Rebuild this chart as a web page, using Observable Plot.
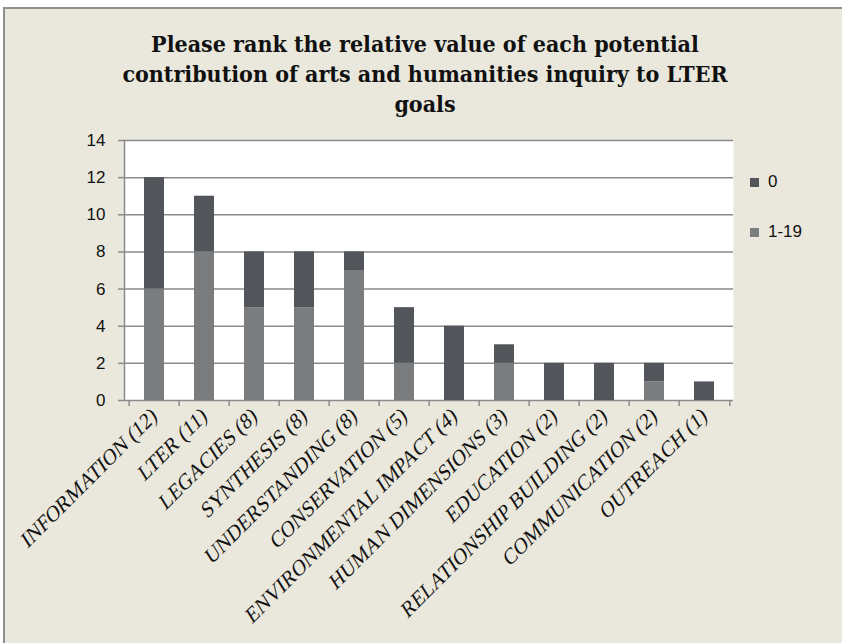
<!DOCTYPE html>
<html>
<head>
<meta charset="utf-8">
<script src="https://cdn.jsdelivr.net/npm/d3@7"></script>
<script src="https://cdn.jsdelivr.net/npm/@observablehq/plot@0.6"></script>
<style>
  html, body { margin: 0; padding: 0; }
  body { width: 842px; height: 643px; overflow: hidden; background: #ffffff; position: relative; }
  #card { position: absolute; left: 3px; top: 7px; width: 900px; height: 700px; background: #eae8dc; border-left: 2px solid #8e8e8e; border-top: 2px solid #8e8e8e; }
  #title { position: absolute; left: 0; top: 29px; width: 850px; text-align: center; font-family: "DejaVu Serif Condensed", "DejaVu Serif", serif; font-stretch: condensed; font-weight: bold; font-size: 23px; line-height: 30px; color: #111; }
  #chart { position: absolute; left: 0; top: 125px; }
  #legend { position: absolute; left: 750px; top: 172px; font-family: "Liberation Sans", sans-serif; font-size: 17px; color: #111; }
  .item { display: flex; align-items: center; height: 20px; margin-bottom: 30px; }
  .sw { width: 9px; height: 9px; margin-right: 9px; }
</style>
</head>
<body>
<div id="card"></div>
<div id="title">Please rank the relative value of each potential<br>contribution of arts and humanities inquiry to LTER<br>goals</div>
<div id="chart"></div>
<div id="legend"></div>
<script>
const categories = [
  "INFORMATION (12)", "LTER (11)", "LEGACIES (8)", "SYNTHESIS (8)",
  "UNDERSTANDING (8)", "CONSERVATION (5)", "ENVIRONMENTAL IMPACT (4)",
  "HUMAN DIMENSIONS (3)", "EDUCATION (2)", "RELATIONSHIP BUILDING (2)",
  "COMMUNICATION (2)", "OUTREACH (1)"
];
const values_1_19 = [6, 8, 5, 5, 7, 2, 0, 2, 0, 0, 1, 0];
const values_0    = [6, 3, 3, 3, 1, 3, 4, 1, 2, 2, 1, 1];
const seriesNames = ["1-19", "0"];
const legendOrder = ["0", "1-19"];
const seriesColors = ["#7b7c7e", "#525559"];
const yTicks = [0, 2, 4, 6, 8, 10, 12, 14];

const data = categories.flatMap((c, i) => [
  {cat: c, series: "1-19", value: values_1_19[i]},
  {cat: c, series: "0", value: values_0[i]}
]);

const W = 842, H = 518;
const mL = 124, mR = 109, mT = 15, mB = 243;
const step = (W - mL - mR) / categories.length;

const chart = Plot.plot({
  width: W, height: H,
  marginLeft: mL, marginRight: mR, marginTop: mT, marginBottom: mB,
  style: {background: "transparent", overflow: "visible"},
  x: {domain: categories, paddingInner: 0.6, paddingOuter: 0.3, label: null},
  y: {domain: [0, 14], label: null},
  color: {domain: seriesNames, range: seriesColors},
  marks: [
    Plot.frame({fill: "white", stroke: null}),
    Plot.gridY(yTicks, {stroke: "#8a8a8a", strokeOpacity: 1, strokeWidth: 1.5}),
    Plot.barY(data, Plot.stackY({x: "cat", y: "value", fill: "series", order: seriesNames})),
    Plot.frame({anchor: "left", stroke: "#8a8a8a", strokeWidth: 1.5}),
    Plot.ruleX(categories, {x: d => d, dx: -step / 2, y1: 0, y2: 0, insetBottom: -6, stroke: "#8a8a8a", strokeWidth: 1.5}),
    Plot.ruleX(categories.slice(-1), {x: d => d, dx: step / 2, y1: 0, y2: 0, insetBottom: -6, stroke: "#8a8a8a", strokeWidth: 1.5}),
    Plot.axisY({ticks: yTicks, tickSize: 6, tickPadding: 13, stroke: "#8a8a8a", strokeWidth: 1.5,
      fontSize: 17, fontFamily: "Liberation Sans, sans-serif", fill: "#111", label: null}),
    Plot.axisX({tickSize: 0, tickPadding: 12, tickRotate: -45, fontSize: 21,
      fontFamily: "Liberation Serif, serif", fill: "#111", label: null})
  ]
});
// emulate the italic tick labels (no italic serif face installed): add a slant after rotation
d3.select(chart).selectAll("g[aria-label='x-axis tick label'] text").each(function () {
  const t = this.getAttribute("transform");
  if (t) this.setAttribute("transform", t + " skewX(-13)");
});
document.getElementById("chart").appendChild(chart);

const legend = document.getElementById("legend");
legendOrder.forEach(s => {
  const item = document.createElement("div");
  item.className = "item";
  const sw = document.createElement("div");
  sw.className = "sw";
  sw.style.background = seriesColors[seriesNames.indexOf(s)];
  const t = document.createElement("span");
  t.textContent = s;
  item.appendChild(sw); item.appendChild(t);
  legend.appendChild(item);
});
</script>
</body>
</html>
